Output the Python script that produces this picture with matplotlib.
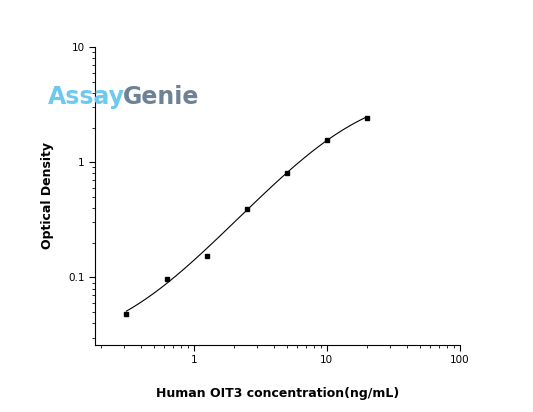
import numpy as np
import matplotlib.pyplot as plt
from matplotlib.ticker import LogLocator, NullFormatter, FuncFormatter

conc = [0.3125, 0.625, 1.25, 2.5, 5, 10, 20]
od = [0.048, 0.097, 0.153, 0.39, 0.80, 1.55, 2.40]


def logistic4(x, a, b, c, d):
    return d + (a - d) / (1 + (x / c) ** b)


# rough 4PL fit by grid search on log residuals
x = np.array(conc)
y = np.array(od)
best = None
for a in np.linspace(0.0, 0.04, 9):
    for b in np.linspace(0.8, 2.0, 25):
        for c in np.geomspace(2, 30, 30):
            for d in np.linspace(2.5, 6, 15):
                r = np.sum((np.log(logistic4(x, a, b, c, d)) - np.log(y)) ** 2)
                if best is None or r < best[0]:
                    best = (r, a, b, c, d)
_, a, b, c, d = best

fig = plt.figure(figsize=(5.33, 4.12), dpi=100)
ax = fig.add_axes([0.178, 0.163, 0.685, 0.723])
xs = np.geomspace(0.3125, 20, 200)
ax.plot(xs, logistic4(xs, a, b, c, d), color="black", linewidth=0.8)
ax.plot(conc, od, "s", color="black", markersize=3.5)

ax.set_xscale("log")
ax.set_yscale("log")
ax.set_xlim(0.181, 100)
ax.set_ylim(0.026, 10)
for s in ["top", "right"]:
    ax.spines[s].set_visible(False)
fmt = FuncFormatter(lambda v, p: f"{v:g}")
ax.xaxis.set_major_formatter(fmt)
ax.yaxis.set_major_formatter(fmt)
ax.xaxis.set_minor_formatter(NullFormatter())
ax.yaxis.set_minor_formatter(NullFormatter())
ax.xaxis.set_minor_locator(LogLocator(subs=np.arange(2, 10)))
ax.yaxis.set_minor_locator(LogLocator(subs=np.arange(2, 10)))
ax.tick_params(which="major", length=4, labelsize=7.5)
ax.tick_params(which="minor", length=2)
ax.set_xlabel("Human OIT3 concentration(ng/mL)", fontsize=9, fontweight="bold", labelpad=16)
ax.set_ylabel("Optical Density", fontsize=9, fontweight="bold", labelpad=10)

fig.text(0.09, 0.765, "Assay", color="#6ec8ef", fontsize=17, fontweight="bold", va="center")
fig.text(0.231, 0.765, "Genie", color="#6e8296", fontsize=17, fontweight="bold", va="center")

fig.savefig("out.png", dpi=100)
